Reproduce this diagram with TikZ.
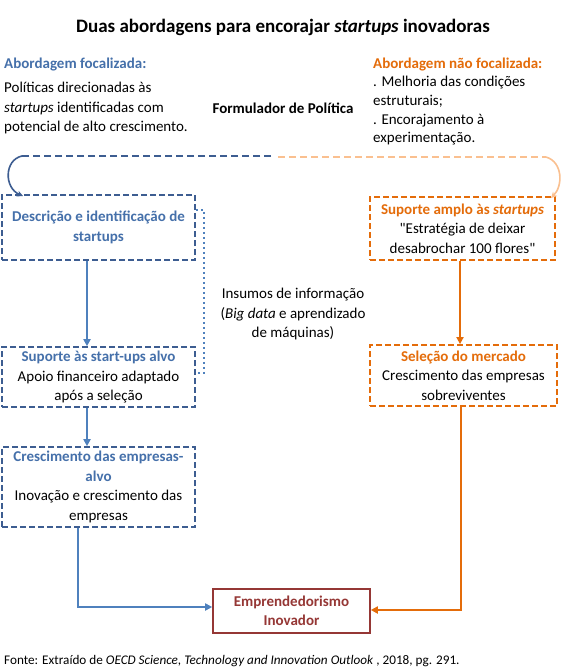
\documentclass[tikz,border=0pt]{standalone}
\usepackage{fontspec}
\setmainfont{Carlito}[Ligatures=TeXOff]
\usetikzlibrary{arrows.meta}
\definecolor{bluetxt}{HTML}{4570AA}
\definecolor{blueborder}{HTML}{3D5D91}
\definecolor{bluearrow}{HTML}{4F81BD}
\definecolor{orng}{HTML}{E46C0A}
\definecolor{lightorng}{HTML}{FAC090}
\definecolor{darkred}{HTML}{953735}
\newcommand{\bodyfont}{\fontsize{15}{19.5}\selectfont}
\tikzset{
  body/.style={font=\bodyfont, inner sep=0pt},
  bluebox/.style={draw=blueborder, line width=1.6pt, dash pattern=on 6pt off 3pt, align=center, body, anchor=center},
  orangebox/.style={draw=orng, line width=1.8pt, dash pattern=on 6pt off 3pt, align=center, body, anchor=center},
  bluearr/.style={draw=bluearrow, line width=2pt, -{Triangle[length=7pt,width=7pt]}},
  orangearr/.style={draw=orng, line width=2pt, -{Triangle[length=7pt,width=7pt]}},
  txt/.style={body, align=left, anchor=base west},
}
\begin{document}
\begin{tikzpicture}[x=1pt,y=-1pt]
\useasboundingbox (0,0) rectangle (565,671);
\fill[white] (0,0) rectangle (565,671);
% title
\node[font=\fontsize{19}{22}\selectfont\bfseries, inner sep=0pt, anchor=base] (title) at (283,33) {Duas abordagens para encorajar \textit{startups} inovadoras};
% left header
\node[txt, text=bluetxt, font=\bodyfont\bfseries] (lh) at (4,69) {Abordagem focalizada:};
\node[txt] (lp1) at (4,93) {Políticas direcionadas às};
\node[txt] (lp2) at (4,113) {\textit{startups} identificadas com};
\node[txt] (lp3) at (4,132) {potencial de alto crescimento.};
\node[body, font=\bodyfont\bfseries, anchor=base] (form) at (283,114) {Formulador de Política};
% right header
\node[txt, text=orng, font=\bodyfont\bfseries] (rh) at (373,69) {Abordagem não focalizada:};
\node[txt] (rp1) at (373,87) {. Melhoria das condições};
\node[txt] (rp2) at (373,106) {estruturais;};
\node[txt] (rp3) at (373,125) {. Encorajamento à};
\node[txt] (rp4) at (373,143) {experimentação.};
% top dashed lines
\coordinate (bl) at (22,156);
\coordinate (bm) at (271,156);
\coordinate (om) at (278,157);
\coordinate (orr) at (546,157);
\fill[white] (0,147) rectangle (565,166);
\draw[blueborder, line width=2.2pt, dash pattern=on 7pt off 4pt] (bm) -- (bl);
\draw[lightorng, line width=2.2pt, dash pattern=on 7pt off 4pt] (om) -- (orr);
% boxes
\node[bluebox, text=bluetxt, font=\bodyfont\bfseries, minimum width=193pt, minimum height=65pt] (b1) at (98.5,227.5) {Descrição e identificação de\\startups};
\node[bluebox, minimum width=193pt, minimum height=60pt] (b2) at (98.5,377) {\textcolor{bluetxt}{\bfseries Suporte às start-ups alvo}\\Apoio financeiro adaptado\\após a seleção};
\node[bluebox, minimum width=193pt, minimum height=80pt] (b3) at (98.5,487) {\textcolor{bluetxt}{\bfseries Crescimento das empresas-}\\\textcolor{bluetxt}{\bfseries alvo}\\Inovação e crescimento das\\empresas};
\node[orangebox, minimum width=185pt, minimum height=63pt] (r1) at (462.5,228.5) {\textcolor{orng}{\bfseries Suporte amplo às \textit{startups}}\\"Estratégia de deixar\\desabrochar 100 flores"};
\node[orangebox, minimum width=187pt, minimum height=61pt] (r2) at (463.5,375.5) {\textcolor{orng}{\bfseries Seleção do mercado}\\Crescimento das empresas\\sobreviventes};
\node[draw=darkred, line width=1.6pt, text=darkred, align=center, body, font=\bodyfont\bfseries, minimum width=157pt, minimum height=44pt] (emp) at (291.5,611) {Emprendedorismo\\Inovador};
% middle text
\node[body, align=center] (ins) at (293,314) {Insumos de informação\\(\textit{Big data} e aprendizado\\de máquinas)};
% curved arrows
\coordinate (bt) at (23,196);
\coordinate (ot) at (551,198);
\draw[blueborder, line width=1.6pt, -{Stealth[length=6pt,width=6pt]}] (bl) .. controls (4,160) and (4,188) .. (bt);
\draw[lightorng, line width=1.6pt, -{Stealth[length=6pt,width=6pt]}] (orr) .. controls (563,162) and (563,186) .. (ot);
% dotted line
\coordinate (d1) at (204,210);
\coordinate (d2) at (204,373);
\draw[bluearrow, line width=2.8pt, dash pattern=on 2.5pt off 2.5pt] (b1.east |- d1) -- (d1) -- (d2) -- (b2.east |- d2);
% blue arrows
\draw[bluearr] (b1.south -| 87,0) -- (b2.north -| 87,0);
\draw[bluearr] (b2.south -| 87,0) -- (b3.north -| 87,0);
\coordinate (c1) at (78,607);
\draw[bluearr] (b3.south -| c1) -- (c1) -- (emp.west |- c1);
% orange arrows
\draw[orangearr] (r1.south -| 460,0) -- (r2.north -| 460,0);
\coordinate (c2) at (461,610);
\draw[orangearr] (r2.south -| c2) -- (c2) -- (emp.east |- c2);
% footer
\node[txt, font=\fontsize{13.2}{15}\selectfont] (foot) at (4,664) {Fonte: Extraído de \textit{OECD Science, Technology and Innovation Outlook} , 2018, pg. 291.};
\end{tikzpicture}
\end{document}
